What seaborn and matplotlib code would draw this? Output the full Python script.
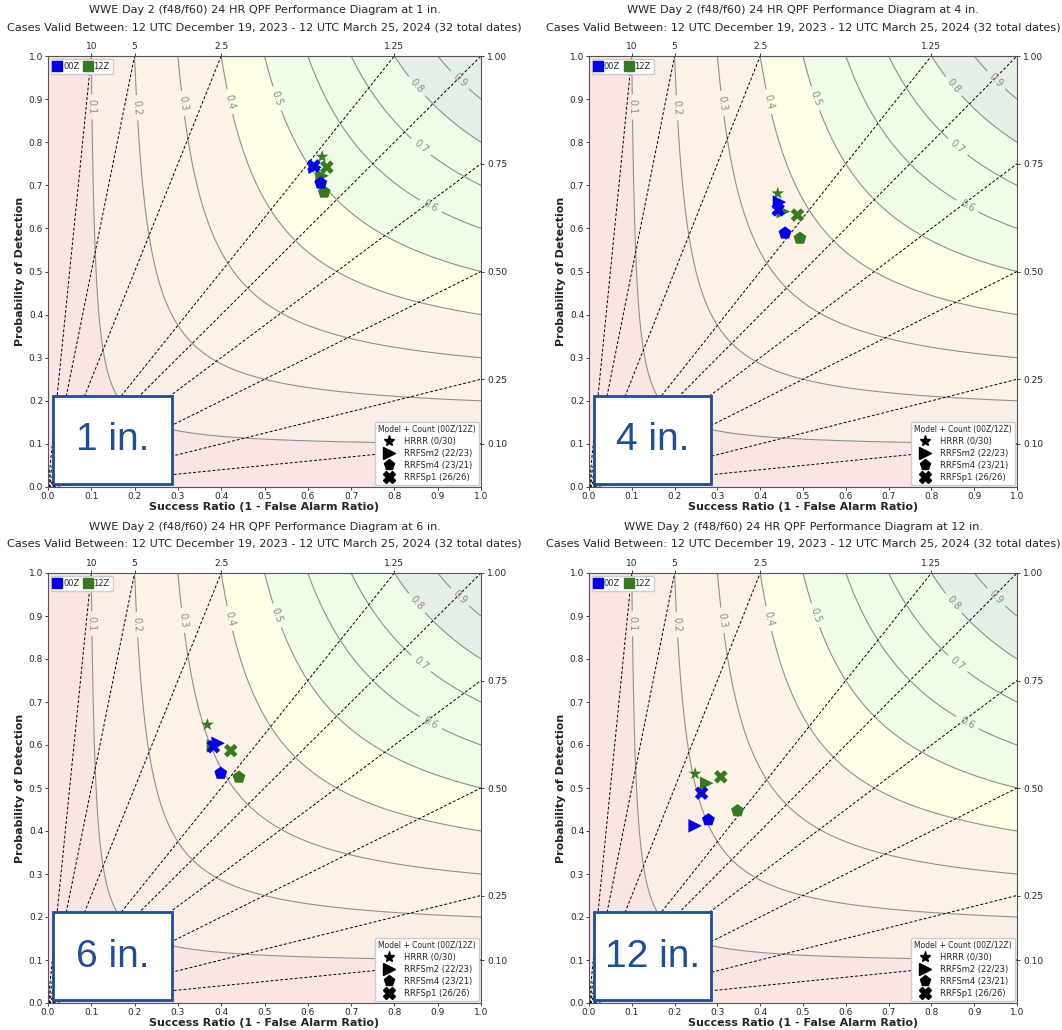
import matplotlib
matplotlib.use("Agg")
import matplotlib.pyplot as plt
import numpy as np
import pandas as pd
import seaborn as sns
from matplotlib.lines import Line2D
from matplotlib.patches import Rectangle

# ---- data ----
models = ['HRRR', 'RRFSm2', 'RRFSm4', 'RRFSp1']
counts = ['(0/30)', '(22/23)', '(23/21)', '(26/26)']
thresholds = ['1 in.', '4 in.', '6 in.', '12 in.']

# success ratio / POD per threshold, order = models, None = no cases
sr_00z = [[None, 0.617, 0.630, 0.614],
          [None, 0.445, 0.458, 0.442],
          [None, 0.393, 0.399, 0.382],
          [None, 0.248, 0.279, 0.263]]
pod_00z = [[None, 0.742, 0.705, 0.745],
           [None, 0.661, 0.589, 0.643],
           [None, 0.604, 0.534, 0.596],
           [None, 0.412, 0.426, 0.488]]
sr_12z = [[0.633, 0.633, 0.638, 0.644],
          [0.441, 0.454, 0.493, 0.487],
          [0.368, 0.382, 0.441, 0.422],
          [0.248, 0.275, 0.347, 0.308]]
pod_12z = [[0.766, 0.722, 0.684, 0.742],
           [0.681, 0.639, 0.577, 0.631],
           [0.647, 0.598, 0.525, 0.587],
           [0.533, 0.511, 0.447, 0.526]]

csi_levels = [0.1, 0.2, 0.3, 0.4, 0.5, 0.6, 0.7, 0.8, 0.9]
fill_levels = [0, 0.1, 0.2, 0.4, 0.5, 0.8, 1.0]
fill_colors = ['#fbe4e4', '#fbeee6', '#fcf3e6', '#fefee6', '#effde6', '#e5efe5']
bias_lines = [0.1, 0.25, 0.5, 0.75, 1.0, 1.25, 2.5, 5, 10]
top_bias = [10, 5, 2.5, 1.25]
right_bias = [0.1, 0.25, 0.5, 0.75, 1.0]

title1 = 'WWE Day 2 (f48/f60) 24 HR QPF Performance Diagram at %s'
title2 = 'Cases Valid Between: 12 UTC December 19, 2023 - 12 UTC March 25, 2024 (32 total dates)'

c00 = '#0000ee'
c12 = '#347a1e'
box_color = '#1f4e96'
marker_map = {'HRRR': '*', 'RRFSm2': '>', 'RRFSm4': 'p', 'RRFSp1': 'X'}

sns.set_style('white')
plt.rcParams['font.family'] = ['DejaVu Sans']

fig = plt.figure(figsize=(10.62, 10.30), dpi=100)
W, H = 1062.0, 1030.0
# axes boxes in pixels: left, top, right, bottom
boxes = [(48, 56, 481, 487), (589, 56, 1017, 487),
         (48, 573, 481, 1003), (589, 573, 1017, 1003)]

g = np.linspace(0.001, 1, 400)
SR, POD = np.meshgrid(g, g)
CSI = 1.0 / (1.0 / SR + 1.0 / POD - 1.0)
label_spots = [(0.102, 0.882), (0.206, 0.88), (0.312, 0.89), (0.42, 0.894),
               (0.531, 0.902), (0.885, 0.654), (0.862, 0.79), (0.851, 0.929),
               (0.951, 0.944)]

for k, (l, t, r, b) in enumerate(boxes):
    ax = fig.add_axes([l / W, 1 - b / H, (r - l) / W, (b - t) / H])

    ax.contourf(SR, POD, CSI, levels=fill_levels, colors=fill_colors)
    cs = ax.contour(SR, POD, CSI, levels=csi_levels, colors='#8f8f8f', linewidths=0.8)
    ax.clabel(cs, fmt='%.1f', fontsize=7, colors='#8c8c8c', inline=True, manual=label_spots)
    xs = np.linspace(0, 1, 50)
    for bb in bias_lines:
        ax.plot(xs, bb * xs, ls=(0, (3, 2)), color='black', lw=0.7)

    rows = []
    for cyc, srl, podl in (('12Z', sr_12z[k], pod_12z[k]), ('00Z', sr_00z[k], pod_00z[k])):
        for m, s, p in zip(models, srl, podl):
            if s is not None:
                rows.append({'model': m, 'cycle': cyc, 'sr': s, 'pod': p})
    df = pd.DataFrame(rows)
    sns.scatterplot(data=df, x='sr', y='pod', hue='cycle', style='model',
                    palette={'00Z': c00, '12Z': c12}, markers=marker_map,
                    s=95, edgecolor='none', legend=False, ax=ax, zorder=5)

    ax.set_xlim(0, 1)
    ax.set_ylim(0, 1)
    ax.set_xticks(np.arange(0, 1.01, 0.1))
    ax.set_yticks(np.arange(0, 1.01, 0.1))
    ax.set_xticklabels(['%.1f' % v for v in np.arange(0, 1.01, 0.1)])
    ax.set_yticklabels(['%.1f' % v for v in np.arange(0, 1.01, 0.1)])
    ax.tick_params(labelsize=6.5, length=2.5, width=0.6, bottom=True, left=True, pad=1)
    ax.set_xlabel('Success Ratio (1 - False Alarm Ratio)', fontsize=8, fontweight='bold', labelpad=1)
    ax.set_ylabel('Probability of Detection', fontsize=8, fontweight='bold', labelpad=3)
    for sp in ax.spines.values():
        sp.set_color('#555555')
        sp.set_linewidth(0.8)

    axt = ax.twiny()
    axt.set_xlim(0, 1)
    axt.set_xticks([1.0 / v for v in top_bias])
    axt.set_xticklabels([str(v) for v in top_bias])
    axt.tick_params(labelsize=6.5, length=2.5, width=0.6, top=True, pad=1)
    axr = ax.twinx()
    axr.set_ylim(0, 1)
    axr.set_yticks(right_bias)
    axr.set_yticklabels(['%.2f' % v for v in right_bias])
    axr.tick_params(labelsize=6.5, length=2.5, width=0.6, right=True, pad=2)
    for a in (axt, axr):
        for sp in a.spines.values():
            sp.set_visible(False)

    h1 = [Line2D([], [], marker='s', ls='none', color=c00, markersize=7.5, label='00Z'),
          Line2D([], [], marker='s', ls='none', color=c12, markersize=7.5, label='12Z')]
    leg1 = axr.legend(handles=h1, loc='upper left', ncol=2, fontsize=6, handlelength=0.8,
                      handletextpad=0.3, columnspacing=0.6, borderpad=0.4,
                      borderaxespad=0.3, framealpha=1)
    axr.add_artist(leg1)
    h2 = [Line2D([], [], marker=marker_map[m], ls='none', color='black', markersize=8,
                 label='%s %s' % (m, c)) for m, c in zip(models, counts)]
    axr.legend(handles=h2, loc='lower right', title='Model + Count (00Z/12Z)', fontsize=6,
               title_fontsize=5.5, handletextpad=0.8, labelspacing=0.35, borderpad=0.4,
               borderaxespad=0.25, framealpha=1)

    ax.add_patch(Rectangle((0.012, 0.007), 0.274, 0.204, transform=ax.transAxes,
                           facecolor='white', edgecolor=box_color, lw=2, zorder=10))
    ax.text(0.149, 0.108, thresholds[k], transform=ax.transAxes, ha='center', va='center',
            fontsize=28, color=box_color, family='Liberation Sans', zorder=11)

    cx = (l + r) / 2.0 / W
    fig.text(cx, 1 - (t - 46) / H, title1 % thresholds[k], ha='center', va='center', fontsize=8.1)
    fig.text(cx, 1 - (t - 29) / H, title2, ha='center', va='center', fontsize=8.1)

fig.savefig('out.png', dpi=100)
